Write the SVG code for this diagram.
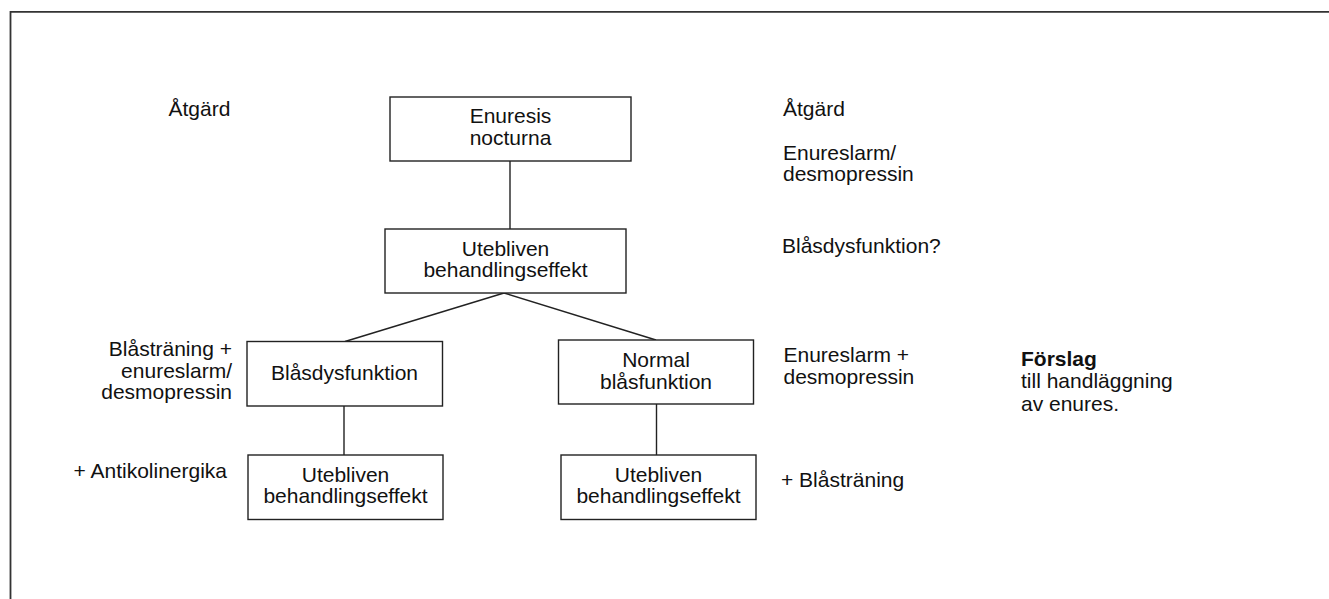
<svg xmlns="http://www.w3.org/2000/svg" width="1329" height="599" viewBox="0 0 1329 599">
<style>
.box{fill:#fff;stroke:#222;stroke-width:1.4}
.ln{stroke:#222;stroke-width:1.4;fill:none}
text{font-family:"Liberation Sans",Arial,sans-serif;font-size:21px;fill:#111}
.c{text-anchor:middle}
.r{text-anchor:end}
.b{font-weight:bold}
</style>
<rect width="1329" height="599" fill="#fff"/>
<path d="M10.5,600 V11.8 H1330" fill="none" stroke="#333" stroke-width="1.8"/>
<g id="connectors">
<line class="ln" x1="510" y1="161" x2="510" y2="229"/>
<line class="ln" x1="504" y1="293" x2="345" y2="341.5"/>
<line class="ln" x1="504" y1="293" x2="656" y2="340"/>
<line class="ln" x1="344" y1="406" x2="344" y2="455"/>
<line class="ln" x1="656.5" y1="404" x2="656.5" y2="455"/>
</g>
<g id="n_enuresis">
<rect class="box" x="390" y="97" width="241" height="64"/>
<text class="c" x="510.5" y="123.3">Enuresis</text>
<text class="c" x="510.5" y="145">nocturna</text>
</g>
<g id="n_utebliven1">
<rect class="box" x="385" y="229" width="241" height="64"/>
<text class="c" x="505.5" y="255.7">Utebliven</text>
<text class="c" x="505.5" y="277">behandlingseffekt</text>
</g>
<g id="n_blasdys">
<rect class="box" x="247" y="341.5" width="195.5" height="64.5"/>
<text class="c" x="344.5" y="379.5">Blåsdysfunktion</text>
</g>
<g id="n_normal">
<rect class="box" x="558.5" y="340" width="195" height="64"/>
<text class="c" x="656" y="366.7">Normal</text>
<text class="c" x="656" y="389">blåsfunktion</text>
</g>
<g id="n_utebliven2">
<rect class="box" x="248" y="455" width="195" height="64.5"/>
<text class="c" x="345.5" y="481.7">Utebliven</text>
<text class="c" x="345.5" y="503.3">behandlingseffekt</text>
</g>
<g id="n_utebliven3">
<rect class="box" x="561" y="455" width="195" height="64.5"/>
<text class="c" x="658.5" y="481.7">Utebliven</text>
<text class="c" x="658.5" y="503.3">behandlingseffekt</text>
</g>
<g id="labels">
<text x="168.5" y="115.5">Åtgärd</text>
<text x="783" y="116">Åtgärd</text>
<text x="783" y="159.5">Enureslarm/</text>
<text x="783" y="181">desmopressin</text>
<text x="782" y="253">Blåsdysfunktion?</text>
<text class="r" x="232" y="356">Blåsträning +</text>
<text class="r" x="232" y="377.7">enureslarm/</text>
<text class="r" x="232" y="399.3">desmopressin</text>
<text x="73.5" y="478.3">+ Antikolinergika</text>
<text x="783.5" y="362.3">Enureslarm +</text>
<text x="783.5" y="384">desmopressin</text>
<text x="781" y="486.7">+ Blåsträning</text>
<text class="b" x="1021" y="365.7">Förslag</text>
<text x="1021" y="388.3">till handläggning</text>
<text x="1021" y="410.7">av enures.</text>
</g>
</svg>
